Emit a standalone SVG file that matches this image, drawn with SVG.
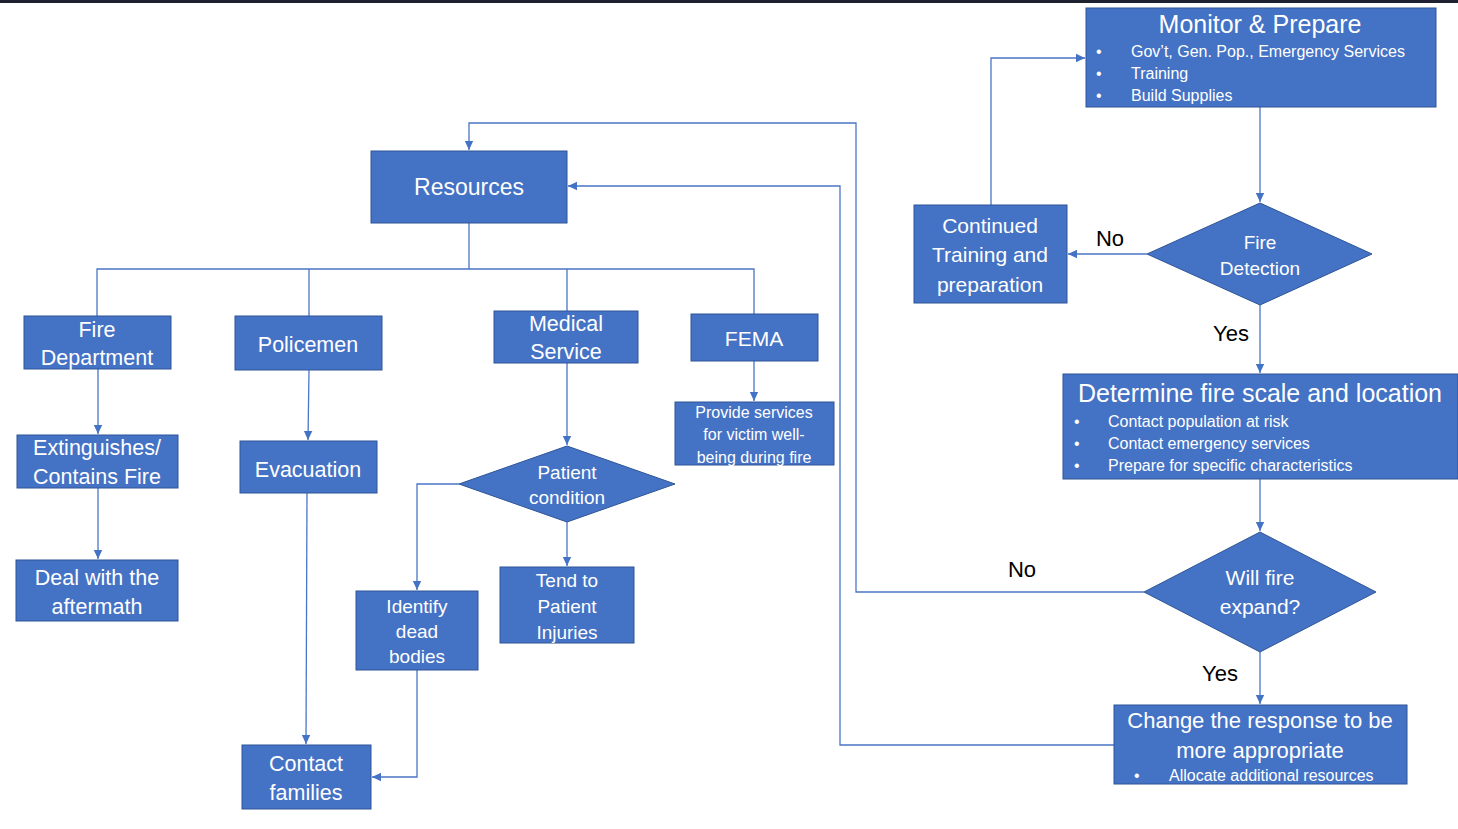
<svg xmlns="http://www.w3.org/2000/svg" width="1458" height="829" viewBox="0 0 1458 829">
<defs>
<style>
.box{fill:#4472C4;stroke:#2F5597;stroke-width:1}
.t{font-family:"Liberation Sans",Arial,sans-serif;fill:#ffffff;text-anchor:middle}
.b{font-family:"Liberation Sans",Arial,sans-serif;fill:#ffffff;font-size:16px}
.lbl{font-family:"Liberation Sans",Arial,sans-serif;fill:#000000;font-size:22px;text-anchor:middle}
.c{fill:none;stroke:#4A76C6;stroke-width:1.3}
</style>
<marker id="ah" markerWidth="10" markerHeight="10" refX="9" refY="5" orient="auto" markerUnits="userSpaceOnUse">
<path d="M0,0.8 L9,5 L0,9.2 Z" fill="#4472C4"/>
</marker>
</defs>
<rect x="0" y="0" width="1458" height="829" fill="#ffffff"/>
<rect x="0" y="0" width="1458" height="3" fill="#1E2230"/>

<g id="connectors">
<path class="c" d="M991,205 V58 H1085" marker-end="url(#ah)"/>
<path class="c" d="M1260,107 V202" marker-end="url(#ah)"/>
<path class="c" d="M1147,254 H1068" marker-end="url(#ah)"/>
<path class="c" d="M1260,305 V373" marker-end="url(#ah)"/>
<path class="c" d="M1260,479 V531" marker-end="url(#ah)"/>
<path class="c" d="M1144,592 H856 V123 H469 V150" marker-end="url(#ah)"/>
<path class="c" d="M1260,652 V704" marker-end="url(#ah)"/>
<path class="c" d="M1114,745 H840 V186 H568" marker-end="url(#ah)"/>
<path class="c" d="M469,223 V269 M97,316 V269 H754 V314 M309,269 V316 M567,269 V311"/>
<path class="c" d="M98,369 V434" marker-end="url(#ah)"/>
<path class="c" d="M98,488 V559" marker-end="url(#ah)"/>
<path class="c" d="M309,370 L308,440" marker-end="url(#ah)"/>
<path class="c" d="M307,493 L306,744" marker-end="url(#ah)"/>
<path class="c" d="M567,363 V445" marker-end="url(#ah)"/>
<path class="c" d="M567,522 V566" marker-end="url(#ah)"/>
<path class="c" d="M459,484 H417 V590" marker-end="url(#ah)"/>
<path class="c" d="M417,670 V777 H372" marker-end="url(#ah)"/>
<path class="c" d="M754,361 V401" marker-end="url(#ah)"/>
</g>

<g id="labels">
<text class="lbl" x="1110" y="246">No</text>
<text class="lbl" x="1231" y="341">Yes</text>
<text class="lbl" x="1022" y="577">No</text>
<text class="lbl" x="1220" y="681">Yes</text>
</g>

<g id="monitor">
<rect class="box" x="1086" y="8" width="350" height="99"/>
<text class="t" x="1260" y="33" font-size="25">Monitor &amp; Prepare</text>
<text class="b" x="1096" y="57">•</text><text class="b" x="1131" y="57">Gov’t, Gen. Pop., Emergency Services</text>
<text class="b" x="1096" y="79">•</text><text class="b" x="1131" y="79">Training</text>
<text class="b" x="1096" y="101">•</text><text class="b" x="1131" y="101">Build Supplies</text>
</g>

<g id="fire-detection">
<polygon class="box" points="1260,203 1372,254 1260,305 1147,254"/>
<text class="t" x="1260" y="249" font-size="19">Fire</text>
<text class="t" x="1260" y="275" font-size="19">Detection</text>
</g>

<g id="continued">
<rect class="box" x="914" y="205" width="153" height="98"/>
<text class="t" x="990" y="233" font-size="21">Continued</text>
<text class="t" x="990" y="262" font-size="21">Training and</text>
<text class="t" x="990" y="292" font-size="21">preparation</text>
</g>

<g id="determine">
<rect class="box" x="1063" y="374" width="395" height="105"/>
<text class="t" x="1260" y="402" font-size="25">Determine fire scale and location</text>
<text class="b" x="1074" y="427">•</text><text class="b" x="1108" y="427" font-size="16.5">Contact population at risk</text>
<text class="b" x="1074" y="449">•</text><text class="b" x="1108" y="449" font-size="16.5">Contact emergency services</text>
<text class="b" x="1074" y="471">•</text><text class="b" x="1108" y="471" font-size="16.5">Prepare for specific characteristics</text>
</g>

<g id="will-fire-expand">
<polygon class="box" points="1260,532 1376,592 1260,652 1144,592"/>
<text class="t" x="1260" y="585" font-size="21">Will fire</text>
<text class="t" x="1260" y="614" font-size="21">expand?</text>
</g>

<g id="change">
<rect class="box" x="1114" y="705" width="293" height="79"/>
<text class="t" x="1260" y="728" font-size="22">Change the response to be</text>
<text class="t" x="1260" y="758" font-size="22">more appropriate</text>
<text class="b" x="1134" y="781">•</text><text class="b" x="1169" y="781" font-size="17">Allocate additional resources</text>
</g>

<g id="resources">
<rect class="box" x="371" y="151" width="196" height="72"/>
<text class="t" x="469" y="195" font-size="23">Resources</text>
</g>

<g id="fire-department">
<rect class="box" x="24" y="316" width="147" height="53"/>
<text class="t" x="97" y="337" font-size="21.5">Fire</text>
<text class="t" x="97" y="365" font-size="21.5">Department</text>
</g>

<g id="policemen">
<rect class="box" x="235" y="316" width="147" height="54"/>
<text class="t" x="308" y="352" font-size="21.5">Policemen</text>
</g>

<g id="medical">
<rect class="box" x="494" y="311" width="144" height="52"/>
<text class="t" x="566" y="331" font-size="21.5">Medical</text>
<text class="t" x="566" y="359" font-size="21.5">Service</text>
</g>

<g id="fema">
<rect class="box" x="691" y="314" width="127" height="47"/>
<text class="t" x="754" y="346" font-size="21">FEMA</text>
</g>

<g id="extinguishes">
<rect class="box" x="17" y="435" width="161" height="53"/>
<text class="t" x="97" y="455" font-size="21.5">Extinguishes/</text>
<text class="t" x="97" y="484" font-size="21.5">Contains Fire</text>
</g>

<g id="aftermath">
<rect class="box" x="16" y="560" width="162" height="61"/>
<text class="t" x="97" y="585" font-size="21.5">Deal with the</text>
<text class="t" x="97" y="614" font-size="21.5">aftermath</text>
</g>

<g id="evacuation">
<rect class="box" x="240" y="441" width="137" height="52"/>
<text class="t" x="308" y="477" font-size="21.5">Evacuation</text>
</g>

<g id="contact-families">
<rect class="box" x="242" y="745" width="129" height="64"/>
<text class="t" x="306" y="771" font-size="21.5">Contact</text>
<text class="t" x="306" y="800" font-size="21.5">families</text>
</g>

<g id="patient-condition">
<polygon class="box" points="567,446 675,484 567,522 459,484"/>
<text class="t" x="567" y="479" font-size="19">Patient</text>
<text class="t" x="567" y="504" font-size="19">condition</text>
</g>

<g id="tend">
<rect class="box" x="500" y="567" width="134" height="76"/>
<text class="t" x="567" y="587" font-size="19">Tend to</text>
<text class="t" x="567" y="613" font-size="19">Patient</text>
<text class="t" x="567" y="639" font-size="19">Injuries</text>
</g>

<g id="identify">
<rect class="box" x="356" y="591" width="122" height="79"/>
<text class="t" x="417" y="613" font-size="19">Identify</text>
<text class="t" x="417" y="638" font-size="19">dead</text>
<text class="t" x="417" y="663" font-size="19">bodies</text>
</g>

<g id="provide">
<rect class="box" x="675" y="402" width="159" height="63"/>
<text class="t" x="754" y="418" font-size="16">Provide services</text>
<text class="t" x="754" y="440" font-size="16">for victim well-</text>
<text class="t" x="754" y="463" font-size="16">being during fire</text>
</g>
</svg>
